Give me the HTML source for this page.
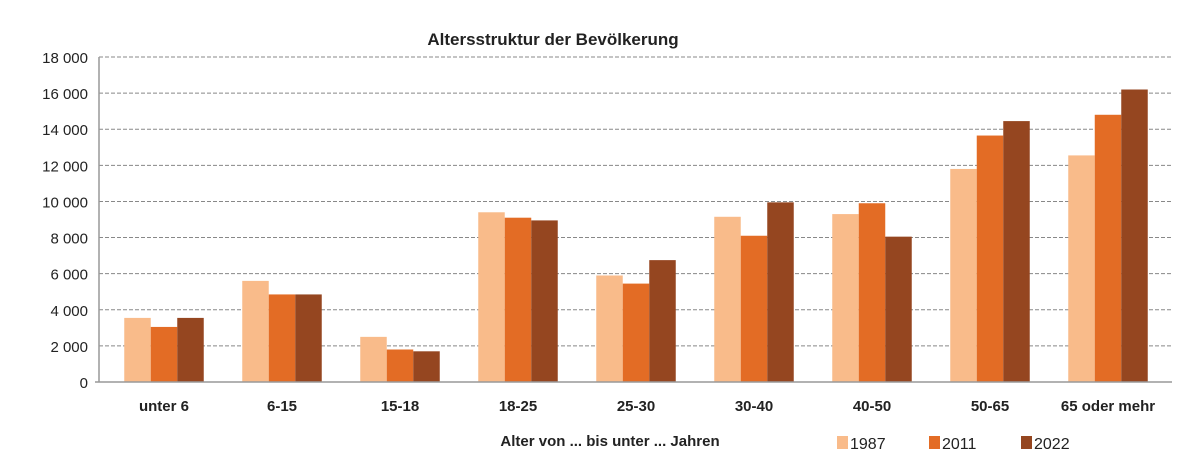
<!DOCTYPE html>
<html><head><meta charset="utf-8"><style>
body{margin:0;background:#fff;}
svg text{font-family:"Liberation Sans",Arial,sans-serif;fill:#222;}
</style></head><body>
<svg id="chart" width="1200" height="464" viewBox="0 0 1200 464" xmlns="http://www.w3.org/2000/svg">
<text x="553" y="45" text-anchor="middle" font-size="17" font-weight="bold">Altersstruktur der Bevölkerung</text>
<g id="grid"></g><g id="bars"></g><g id="axes"></g>
<text x="610" y="446" text-anchor="middle" font-size="15" font-weight="bold">Alter von ... bis unter ... Jahren</text>
<g id="legend"></g>
</svg>
<script>
const categories=["unter 6","6-15","15-18","18-25","25-30","30-40","40-50","50-65","65 oder mehr"];
const series1987=[3550,5600,2500,9400,5900,9150,9300,11800,12550];
const series2011=[3050,4850,1800,9100,5450,8100,9900,13650,14800];
const series2022=[3550,4850,1700,8950,6750,9950,8050,14450,16200];
const yTicks=[0,2000,4000,6000,8000,10000,12000,14000,16000,18000];
const seriesNames=["1987","2011","2022"];
const colors=["#F9BB8A","#E36C25","#954620"];
const NS="http://www.w3.org/2000/svg";
const y0=382,yTop=57,yMax=18000,left=105,right=1167,axisX=99;
const y=v=>y0-(v/yMax)*(y0-yTop);
const catW=(right-left)/categories.length;
const cx=i=>left+catW*(i+0.5);
const bw=26.5;
function mk(t,a,p){const e=document.createElementNS(NS,t);for(const k in a)e.setAttribute(k,a[k]);p.appendChild(e);return e;}
const grid=document.getElementById('grid'),bars=document.getElementById('bars'),axes=document.getElementById('axes'),legend=document.getElementById('legend');
yTicks.forEach(v=>{
 if(v>0){const l=mk('line',{x1:axisX,x2:1172,y1:y(v),y2:y(v),stroke:'#888','stroke-width':1,'stroke-dasharray':'4,2'},grid);
 
 }
 const t=mk('text',{x:88,y:y(v)+6,'text-anchor':'end','font-size':15},axes);t.textContent=v===0?'0':(v/1000)+' 000';
 
 
});
const all=[series1987,series2011,series2022];
categories.forEach((c,i)=>{
 all.forEach((s,j)=>{
  const x=cx(i)+(j-1.5)*bw;
  const r=mk('rect',{x:x,y:y(s[i]),width:bw,height:y0-y(s[i]),fill:colors[j]},bars);
  
  
 });
 const t=mk('text',{x:cx(i),y:411,'text-anchor':'middle','font-size':15,'font-weight':'bold'},axes);t.textContent=c;
 
 
});
const ya=mk('line',{x1:axisX,x2:axisX,y1:yTop,y2:y0,stroke:'#999','stroke-width':1.5},axes);


const xa=mk('line',{x1:axisX-4,x2:1172,y1:y0,y2:y0,stroke:'#999','stroke-width':1.5},axes);


seriesNames.forEach((n,j)=>{
 const lx=837+j*92;
 const g=mk('g',{},legend);
 
 
 mk('rect',{x:lx,y:436,width:11,height:13,fill:colors[j]},g);
 const t=mk('text',{x:lx+13,y:449,'font-size':16},g);t.textContent=n;
});
</script>
</body></html>
